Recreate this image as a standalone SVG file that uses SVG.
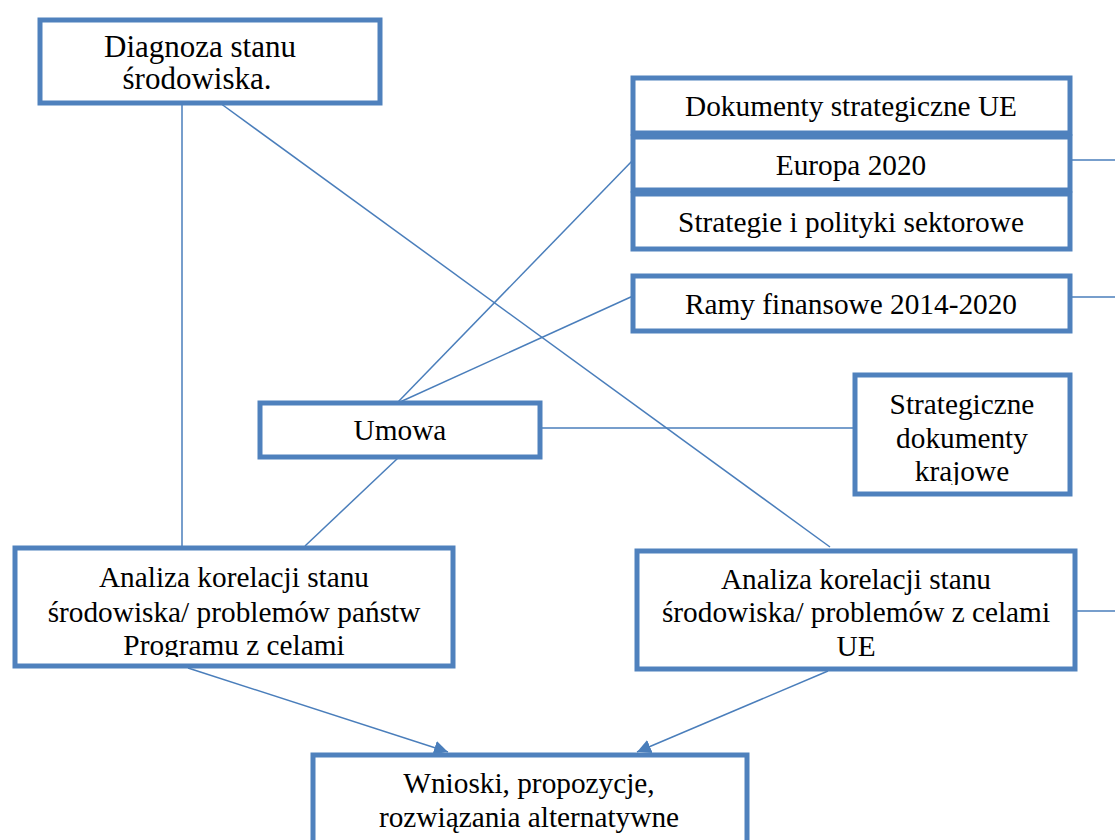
<svg xmlns="http://www.w3.org/2000/svg" width="1115" height="840" viewBox="0 0 1115 840">
<style>
.box{fill:#fff;stroke:#4F81BD;stroke-width:5}
.ln{fill:none;stroke:#4A7EBB;stroke-width:1.5}
text{font-family:"Liberation Serif","Times New Roman",serif;font-size:29.3px;fill:#000;text-anchor:middle}
.big{font-size:31px}
</style>
<defs>
<marker id="arr" markerUnits="userSpaceOnUse" markerWidth="16" markerHeight="14" refX="14" refY="7" orient="auto">
<path d="M0,0 L14,7 L0,14 Z" fill="#4A7EBB"/>
</marker>
<clipPath id="clipL"><rect x="17" y="548" width="436" height="109"/></clipPath>
<clipPath id="clipS"><rect x="857" y="375" width="211" height="110"/></clipPath>
</defs>
<rect width="1115" height="840" fill="#fff"/>
<g id="connectors">
<line class="ln" x1="182" y1="103" x2="182" y2="546"/>
<line class="ln" x1="220" y1="103" x2="830" y2="547"/>
<line class="ln" x1="398" y1="402" x2="633" y2="160"/>
<line class="ln" x1="400" y1="402" x2="633" y2="296"/>
<line class="ln" x1="540" y1="428" x2="855" y2="428"/>
<line class="ln" x1="398" y1="458" x2="305" y2="546"/>
<line class="ln" x1="1070" y1="160" x2="1115" y2="160"/>
<line class="ln" x1="1070" y1="297" x2="1115" y2="297"/>
<line class="ln" x1="1075" y1="611" x2="1115" y2="611"/>
<line class="ln" x1="188" y1="668" x2="448" y2="752" marker-end="url(#arr)"/>
<line class="ln" x1="828" y1="671" x2="637" y2="752" marker-end="url(#arr)"/>
</g>
<g id="diagnoza">
<rect class="box" x="40" y="20" width="340" height="83"/>
<text class="big" x="200" y="57">Diagnoza stanu</text>
<text class="big" x="197" y="89">środowiska.</text>
</g>
<g id="dokumenty-ue">
<rect class="box" x="633" y="78" width="437" height="55"/>
<text x="851" y="116">Dokumenty strategiczne UE</text>
</g>
<g id="europa2020">
<rect class="box" x="633" y="137" width="437" height="53"/>
<text x="851" y="175">Europa 2020</text>
</g>
<g id="strategie-sektorowe">
<rect class="box" x="633" y="194" width="437" height="55"/>
<text x="851" y="232">Strategie i polityki sektorowe</text>
</g>
<g id="ramy">
<rect class="box" x="633" y="276" width="437" height="55"/>
<text x="851" y="314">Ramy finansowe 2014-2020</text>
</g>
<g id="umowa">
<rect class="box" x="260" y="403" width="280" height="54"/>
<text x="400" y="440">Umowa</text>
</g>
<g id="strategiczne-krajowe">
<rect class="box" x="855" y="375" width="215" height="119"/>
<g clip-path="url(#clipS)">
<text x="962" y="414">Strategiczne</text>
<text x="962" y="448">dokumenty</text>
<text x="962" y="481">krajowe</text>
</g>
</g>
<g id="analiza-panstw">
<rect class="box" x="15" y="548" width="438" height="118"/>
<g clip-path="url(#clipL)">
<text x="234" y="587">Analiza korelacji stanu</text>
<text x="234" y="622">środowiska/ problemów państw</text>
<text x="234" y="655">Programu z celami</text>
</g>
</g>
<g id="analiza-ue">
<rect class="box" x="637" y="551" width="438" height="118"/>
<text x="856" y="589">Analiza korelacji stanu</text>
<text x="856" y="622">środowiska/ problemów z celami</text>
<text x="856" y="656">UE</text>
</g>
<g id="wnioski">
<rect class="box" x="313" y="755" width="434" height="100"/>
<text x="529" y="793">Wnioski, propozycje,</text>
<text x="529" y="827">rozwiązania alternatywne</text>
</g>
</svg>
